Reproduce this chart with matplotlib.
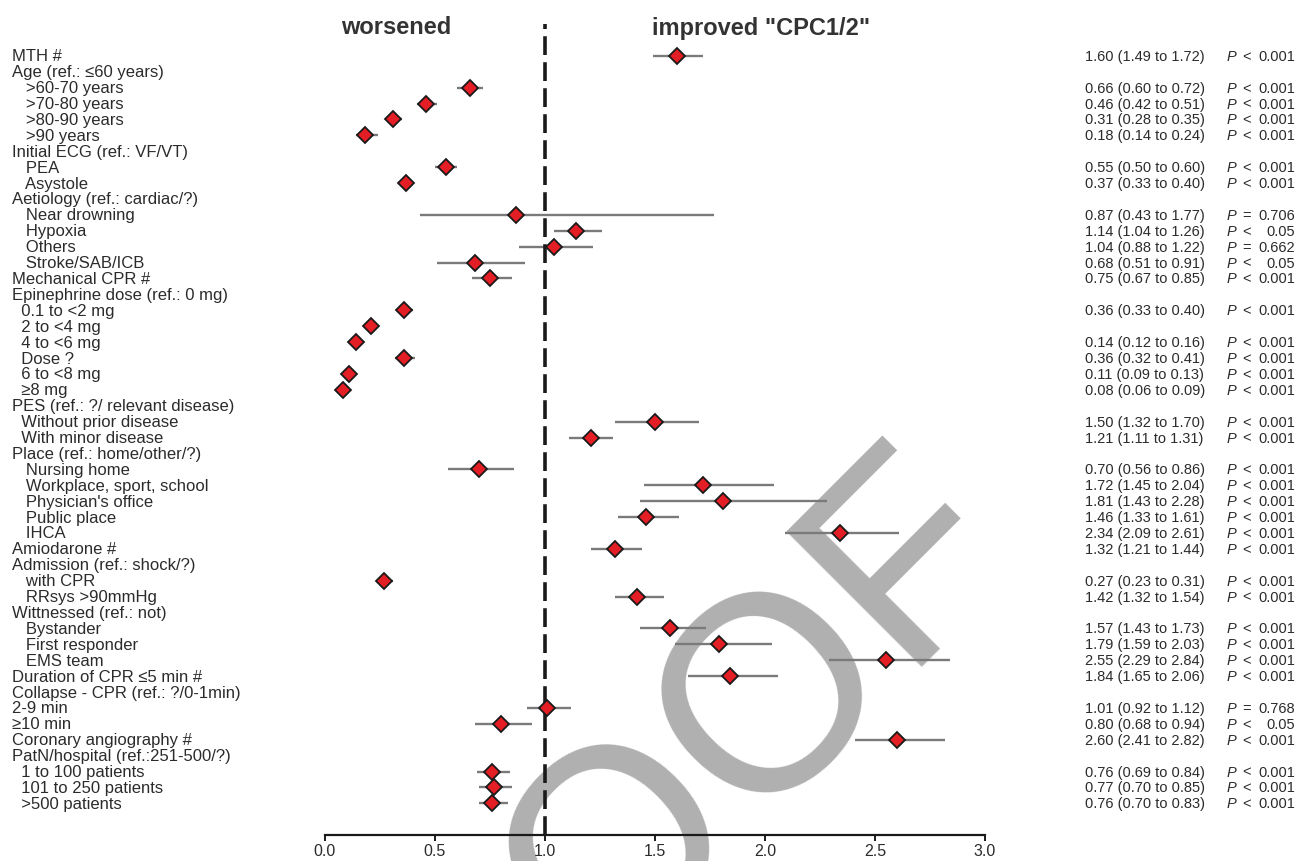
import matplotlib
matplotlib.use("Agg")
from matplotlib import pyplot as plt
from matplotlib import transforms
import numpy as np

# row labels (leading spaces = indent as in the original table)
labels = [
    "MTH #", "Age (ref.: ≤60 years)", "   >60-70 years", "   >70-80 years",
    "   >80-90 years", "   >90 years", "Initial ECG (ref.: VF/VT)", "   PEA",
    "   Asystole", "Aetiology (ref.: cardiac/?)", "   Near drowning", "   Hypoxia",
    "   Others", "   Stroke/SAB/ICB", "Mechanical CPR #", "Epinephrine dose (ref.: 0 mg)",
    "  0.1 to <2 mg", "  2 to <4 mg", "  4 to <6 mg", "  Dose ?", "  6 to <8 mg",
    "  ≥8 mg", "PES (ref.: ?/ relevant disease)", "  Without prior disease",
    "  With minor disease", "Place (ref.: home/other/?)", "   Nursing home",
    "   Workplace, sport, school", "   Physician's office", "   Public place",
    "   IHCA", "Amiodarone #", "Admission (ref.: shock/?)", "   with CPR",
    "   RRsys >90mmHg", "Wittnessed (ref.: not)", "   Bystander",
    "   First responder", "   EMS team", "Duration of CPR ≤5 min #",
    "Collapse - CPR (ref.: ?/0-1min)", "2-9 min", "≥10 min",
    "Coronary angiography #", "PatN/hospital (ref.:251-500/?)",
    "  1 to 100 patients", "  101 to 250 patients", "  >500 patients",
]

# odds ratio, lower / upper 95% CI (None = heading row)
odds = [1.60, None, 0.66, 0.46, 0.31, 0.18, None, 0.55, 0.37, None, 0.87, 1.14,
        1.04, 0.68, 0.75, None, 0.36, 0.21, 0.14, 0.36, 0.11, 0.08, None, 1.50,
        1.21, None, 0.70, 1.72, 1.81, 1.46, 2.34, 1.32, None, 0.27, 1.42, None,
        1.57, 1.79, 2.55, 1.84, None, 1.01, 0.80, 2.60, None, 0.76, 0.77, 0.76]
ci_lo = [1.49, None, 0.60, 0.42, 0.28, 0.14, None, 0.50, 0.33, None, 0.43, 1.04,
         0.88, 0.51, 0.67, None, 0.33, 0.19, 0.12, 0.32, 0.09, 0.06, None, 1.32,
         1.11, None, 0.56, 1.45, 1.43, 1.33, 2.09, 1.21, None, 0.23, 1.32, None,
         1.43, 1.59, 2.29, 1.65, None, 0.92, 0.68, 2.41, None, 0.69, 0.70, 0.70]
ci_hi = [1.72, None, 0.72, 0.51, 0.35, 0.24, None, 0.60, 0.40, None, 1.77, 1.26,
         1.22, 0.91, 0.85, None, 0.40, 0.23, 0.16, 0.41, 0.13, 0.09, None, 1.70,
         1.31, None, 0.86, 2.04, 2.28, 1.61, 2.61, 1.44, None, 0.31, 1.54, None,
         1.73, 2.03, 2.84, 2.06, None, 1.12, 0.94, 2.82, None, 0.84, 0.85, 0.83]
# p-value: operator and number ("" = no text printed for that row)
p_op = ["<", "", "<", "<", "<", "<", "", "<", "<", "", "=", "<",
        "=", "<", "<", "", "<", "", "<", "<", "<", "<", "", "<",
        "<", "", "<", "<", "<", "<", "<", "<", "", "<", "<", "",
        "<", "<", "<", "<", "", "=", "<", "<", "", "<", "<", "<"]
p_val = ["0.001", "", "0.001", "0.001", "0.001", "0.001", "", "0.001", "0.001", "", "0.706", "0.05",
         "0.662", "0.05", "0.001", "", "0.001", "", "0.001", "0.001", "0.001", "0.001", "", "0.001",
         "0.001", "", "0.001", "0.001", "0.001", "0.001", "0.001", "0.001", "", "0.001", "0.001", "",
         "0.001", "0.001", "0.001", "0.001", "", "0.768", "0.05", "0.001", "", "0.001", "0.001", "0.001"]

xticks = [0.0, 0.5, 1.0, 1.5, 2.0, 2.5, 3.0]

plt.rcParams['font.family'] = ['Liberation Sans', 'DejaVu Sans']
txt_col = '#2b2b2b'

fig = plt.figure(figsize=(12.98, 8.62), dpi=100, facecolor='white')
ax = fig.add_axes([325/1298, 1-836/862, 660/1298, 811/862])
ax.set_facecolor('none')

n = len(labels)
rows = np.arange(n)
ax.set_xlim(0, 3)
ax.set_ylim(48.99, -2.0)

for i in rows:
    if odds[i] is None:
        continue
    ax.plot([ci_lo[i], ci_hi[i]], [i, i], color='#7a7a7a', lw=1.7, zorder=1,
            solid_capstyle='butt')
    ax.plot(odds[i], i, marker='D', ms=8.2, mfc='#e31e24', mec='#1a1a1a',
            mew=1.3, zorder=3, ls='none')

ax.axvline(1.0, color='#1a1a1a', lw=2.6, ls=(0, (5.2, 2.0)), zorder=2)

for s in ['top', 'right', 'left']:
    ax.spines[s].set_visible(False)
ax.spines['bottom'].set_linewidth(1.6)
ax.spines['bottom'].set_color('#1a1a1a')
ax.set_yticks([])
ax.set_xticks(xticks)
ax.set_xticklabels(['%.1f' % t for t in xticks])
ax.tick_params(axis='x', length=4.5, width=1.4, color='#1a1a1a', pad=1.5,
               labelsize=11.5, labelcolor=txt_col)

# text columns: x in figure coords, y in data rows
tr = transforms.blended_transform_factory(fig.transFigure, ax.transData)
fs_r = 10.5
for i in rows:
    ax.text(12/1298, i, labels[i], transform=tr, ha='left', va='center',
            fontsize=12, color=txt_col)
    if odds[i] is not None and p_op[i]:
        ax.text(1085/1298, i, '%.2f (%.2f to %.2f)' % (odds[i], ci_lo[i], ci_hi[i]),
                transform=tr, ha='left', va='center', fontsize=fs_r, color=txt_col)
        ax.text(1227/1298, i, 'P', transform=tr, ha='left', va='center',
                fontsize=fs_r, style='italic', color=txt_col)
        ax.text(1242/1298, i, p_op[i], transform=tr, ha='left', va='center',
                fontsize=fs_r, color=txt_col)
        ax.text(1295/1298, i, p_val[i], transform=tr, ha='right', va='center',
                fontsize=fs_r, color=txt_col)

fig.text(396/1298, 1-28/862, 'worsened', ha='center', va='center',
         fontsize=17, fontweight='bold', color='#333333')
fig.text(761/1298, 1-28/862, 'improved "CPC1/2"', ha='center', va='center',
         fontsize=17, fontweight='bold', color='#333333')

# watermark
fig.text(620/1298, 1-845/862, 'PROOF', ha='center', va='center', fontsize=200,
         rotation=45, color='#b0b0b0', zorder=-1)

plt.savefig('out.png', dpi=100)
